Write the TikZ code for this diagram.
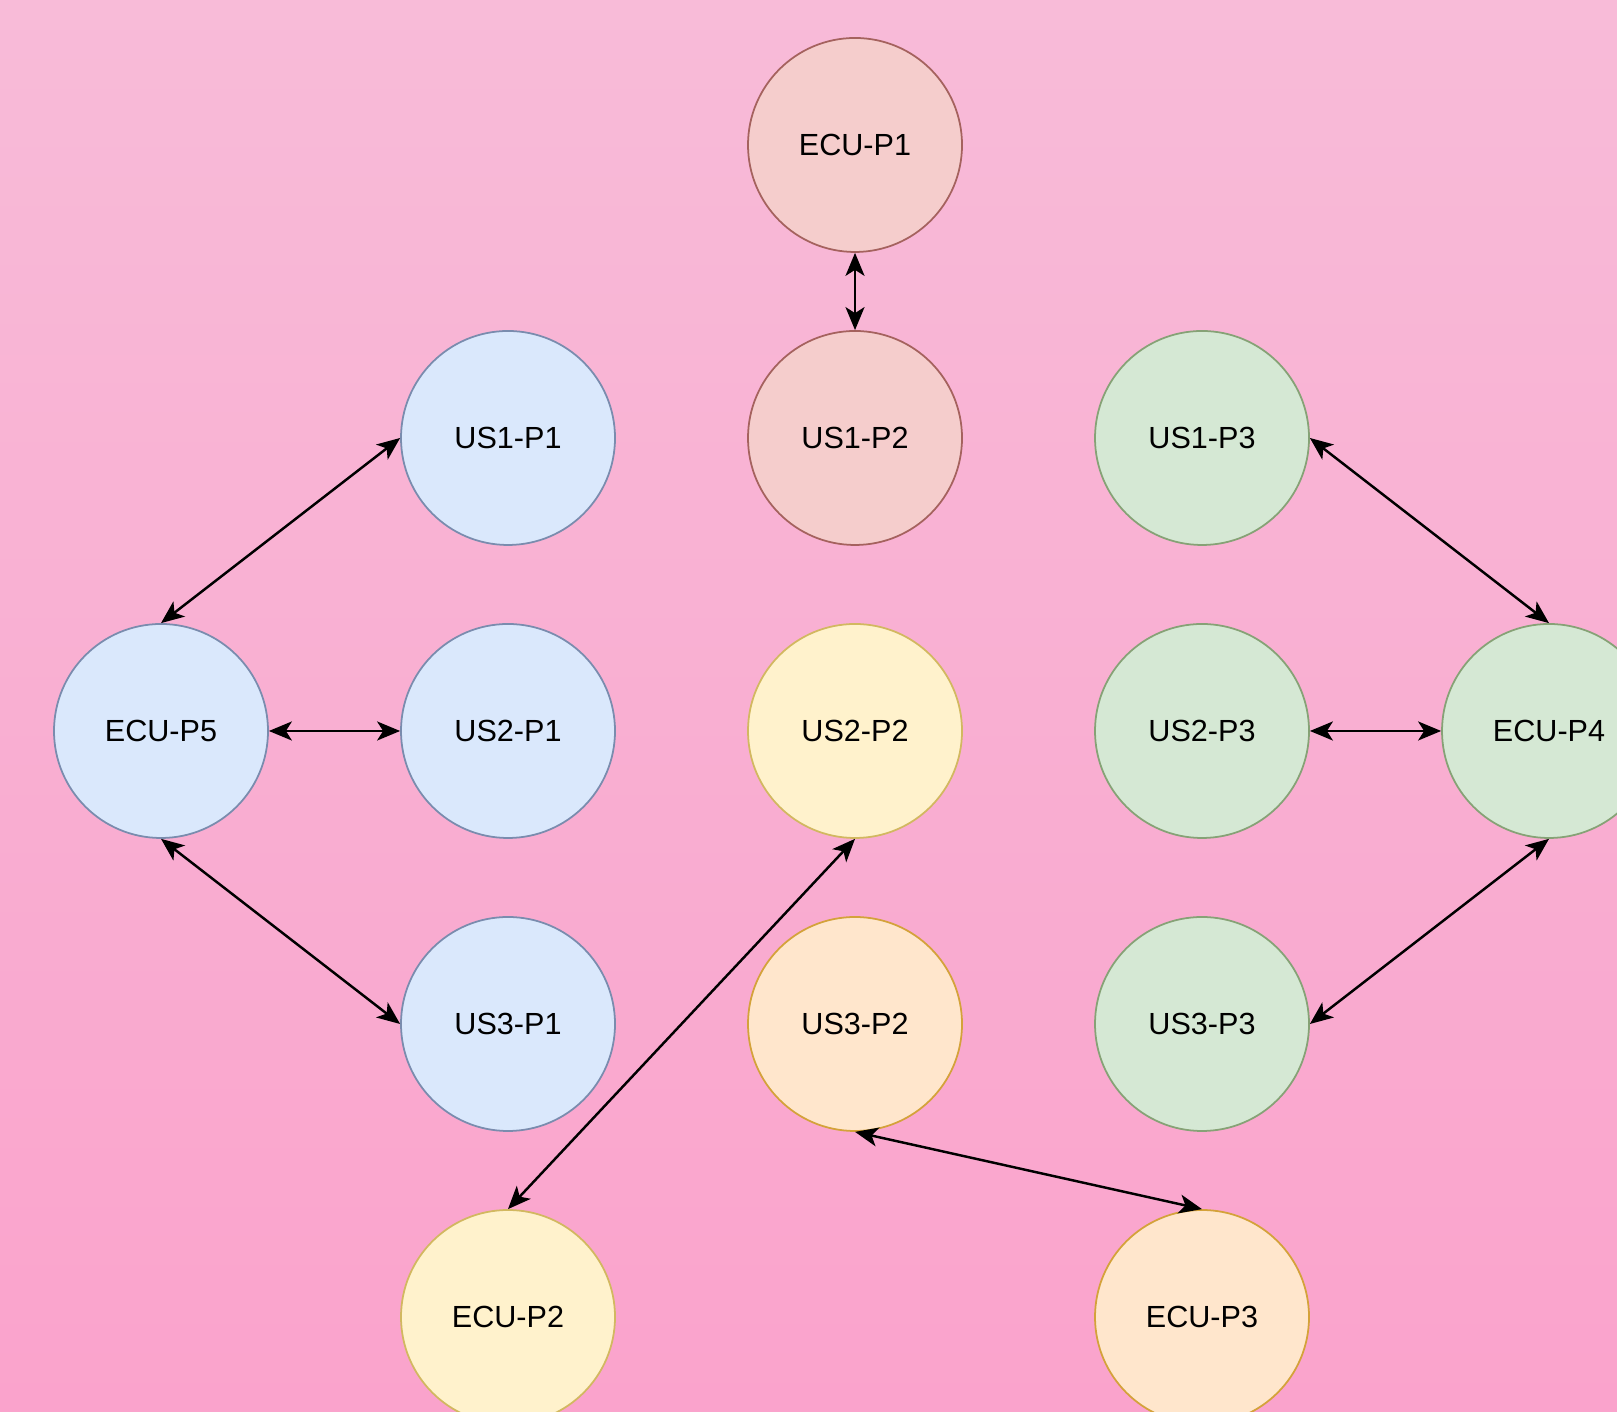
\documentclass[tikz,border=0pt]{standalone}
\usepackage{tikz}
\usepackage{xcolor}
\usepackage{fontspec}
\setmainfont{Liberation Sans}
\usetikzlibrary{arrows.meta,calc,positioning}
\definecolor{pinktop}{RGB}{248,187,216}
\definecolor{pinkbot}{RGB}{250,163,204}
\definecolor{bluefill}{HTML}{DAE8FC}
\definecolor{blueline}{HTML}{7A8CAE}
\definecolor{redfill}{HTML}{F5CDCC}
\definecolor{redline}{HTML}{A5625E}
\definecolor{greenfill}{HTML}{D5E8D4}
\definecolor{greenline}{HTML}{86A276}
\definecolor{yellowfill}{HTML}{FFF2CC}
\definecolor{yellowline}{HTML}{D2B860}
\definecolor{orangefill}{HTML}{FFE6CC}
\definecolor{orangeline}{HTML}{D4A23A}

\begin{document}
\begin{tikzpicture}[line width=0.7pt,
    place/.style={circle,draw,minimum size=2.14cm,inner sep=0pt,line width=0.5pt,font=\fontsize{8.7}{10}\selectfont},
    blueplace/.style={place,fill=bluefill,draw=blueline},
    redplace/.style={place,fill=redfill,draw=redline},
    greenplace/.style={place,fill=greenfill,draw=greenline},
    yellowplace/.style={place,fill=yellowfill,draw=yellowline},
    orangeplace/.style={place,fill=orangefill,draw=orangeline},
    link/.style={>={Stealth[length=2.3mm,width=1.9mm,inset=0.6mm]},<->,draw=black}]
    \shade[top color=pinktop,bottom color=pinkbot] (0,0) rectangle (16.17,14.12);
    \useasboundingbox (0,0) rectangle (16.17,14.12);

    \node (ecu1) at (8.55,12.67)  [redplace] {ECU-P1};
    \node (us1p1) at (5.08,9.74)  [blueplace] {US1-P1};
    \node (us1p2) at (8.55,9.74)  [redplace] {US1-P2};
    \node (us1p3) at (12.02,9.74) [greenplace] {US1-P3};
    \node (ecu5) at (1.61,6.81)   [blueplace] {ECU-P5};
    \node (us2p1) at (5.08,6.81)  [blueplace] {US2-P1};
    \node (us2p2) at (8.55,6.81)  [yellowplace] {US2-P2};
    \node (us2p3) at (12.02,6.81) [greenplace] {US2-P3};
    \node (ecu4) at (15.49,6.81)  [greenplace] {ECU-P4};
    \node (us3p1) at (5.08,3.88)  [blueplace] {US3-P1};
    \node (us3p2) at (8.55,3.88)  [orangeplace] {US3-P2};
    \node (us3p3) at (12.02,3.88) [greenplace] {US3-P3};
    \node (ecu2) at (5.08,0.95)   [yellowplace] {ECU-P2};
    \node (ecu3) at (12.02,0.95)  [orangeplace] {ECU-P3};

    \draw [link] (ecu1.south) -- (us1p2.north);
    \draw [link] (ecu5.north) -- (us1p1.west);
    \draw [link] (ecu5.east) -- (us2p1.west);
    \draw [link] (ecu5.south) -- (us3p1.west);
    \draw [link] (us2p2.south) -- (ecu2.north);
    \draw [link] (us3p2.south) -- (ecu3.north);
    \draw [link] (us1p3.east) -- (ecu4.north);
    \draw [link] (us2p3.east) -- (ecu4.west);
    \draw [link] (ecu4.south) -- (us3p3.east);
  \end{tikzpicture}
\end{document}
